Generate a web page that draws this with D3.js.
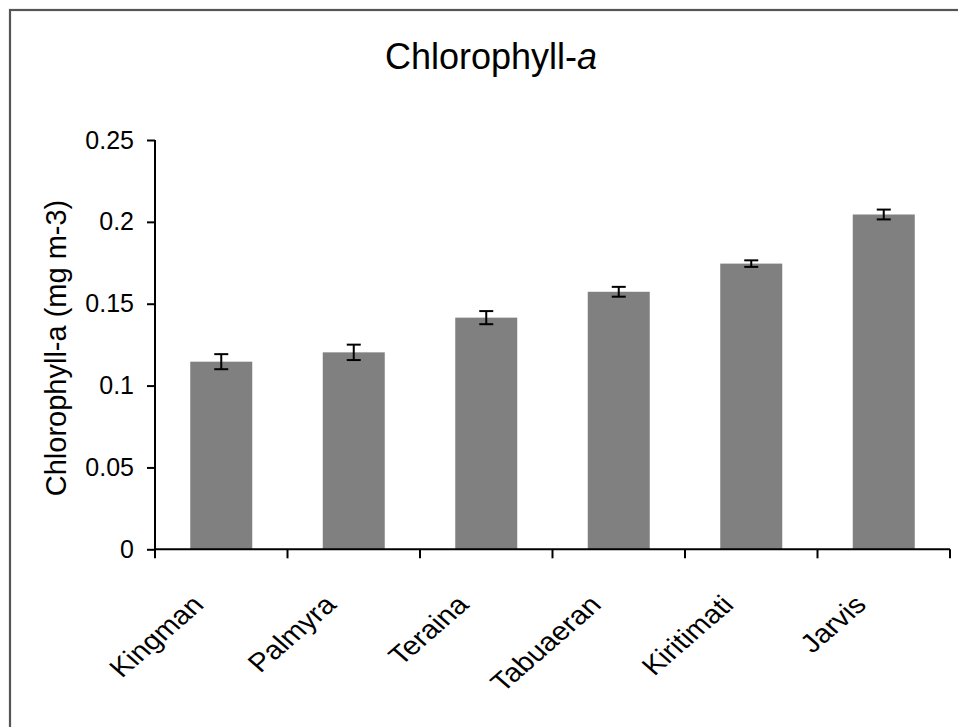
<!DOCTYPE html>
<html>
<head>
<meta charset="utf-8">
<script src="https://cdn.jsdelivr.net/npm/d3@7/dist/d3.min.js"></script>
<style>
  html, body { margin: 0; padding: 0; background: #fff; }
  svg { display: block; font-family: "Liberation Sans", Arial, Helvetica, sans-serif; }
</style>
</head>
<body>
<svg id="chart" width="958" height="727"></svg>
<script>
const categories = ["Kingman", "Palmyra", "Teraina", "Tabuaeran", "Kiritimati", "Jarvis"];
const values = [0.1146, 0.1203, 0.1415, 0.1573, 0.1745, 0.2045];
const errors = [0.0046, 0.0047, 0.0040, 0.0030, 0.0020, 0.0030];
const yTicks = [0, 0.05, 0.1, 0.15, 0.2, 0.25];
const yTickLabels = ["0", "0.05", "0.1", "0.15", "0.2", "0.25"];

const svg = d3.select("#chart");
const plot = { left: 155, right: 950, top: 140, bottom: 549.3 };

// outer frame
svg.append("rect")
  .attr("x", 10).attr("y", 10)
  .attr("width", 980).attr("height", 760)
  .attr("fill", "none").attr("stroke", "#555").attr("stroke-width", 2.2);

const x = d3.scaleBand()
  .domain(categories)
  .range([plot.left, plot.right])
  .paddingInner(0.532)
  .paddingOuter(0.266);

const y = d3.scaleLinear().domain([0, 0.25]).range([plot.bottom, plot.top]);

// bars
svg.append("g").selectAll("rect")
  .data(categories)
  .join("rect")
  .attr("x", d => x(d))
  .attr("width", x.bandwidth())
  .attr("y", (d, i) => y(values[i]))
  .attr("height", (d, i) => y(0) - y(values[i]))
  .attr("fill", "#808080");

// error bars
const eb = svg.append("g").attr("stroke", "#000").attr("stroke-width", 2);
const capW = 14;
categories.forEach((c, i) => {
  const cx = x(c) + x.bandwidth() / 2;
  const yHi = y(values[i] + errors[i]);
  const yLo = y(values[i] - errors[i]);
  eb.append("line").attr("x1", cx).attr("x2", cx).attr("y1", yHi).attr("y2", yLo);
  eb.append("line").attr("x1", cx - capW / 2).attr("x2", cx + capW / 2).attr("y1", yHi).attr("y2", yHi);
  eb.append("line").attr("x1", cx - capW / 2).attr("x2", cx + capW / 2).attr("y1", yLo).attr("y2", yLo);
});

// y axis
const yAxis = d3.axisLeft(y)
  .tickValues(yTicks)
  .tickFormat((d, i) => yTickLabels[i])
  .tickSizeOuter(0)
  .tickSizeInner(8)
  .tickPadding(13);
const gy = svg.append("g").attr("transform", `translate(${plot.left},0)`).call(yAxis);
gy.select(".domain").attr("stroke", "#000").attr("stroke-width", 2)
  .attr("d", `M0,${plot.top}V${plot.bottom + 4}`);
gy.selectAll(".tick line").attr("stroke", "#000").attr("stroke-width", 2);
gy.selectAll(".tick text").attr("font-size", 25).attr("fill", "#000")
  .attr("font-family", "'Liberation Sans', Arial, sans-serif");

// x axis
const xBoundaries = [plot.left].concat(categories.map(c => x(c) + x.bandwidth() / 2 + x.step() / 2));
const gx = svg.append("g").attr("transform", `translate(0,${plot.bottom})`);
gx.append("line").attr("x1", plot.left).attr("x2", plot.right).attr("y1", 0).attr("y2", 0)
  .attr("stroke", "#000").attr("stroke-width", 2);
gx.selectAll("line.tk").data(xBoundaries).join("line").attr("class", "tk")
  .attr("x1", d => d).attr("x2", d => d).attr("y1", 0).attr("y2", 9)
  .attr("stroke", "#000").attr("stroke-width", 2);
gx.selectAll("text").data(categories).join("text")
  .attr("transform", d => `translate(${x(d) + x.bandwidth() / 2 - 16},${57}) scale(1.15,1) rotate(-45)`)
  .attr("text-anchor", "end")
  .attr("font-size", 26)
  .attr("fill", "#000")
  .text(d => d);

// y label
svg.append("text")
  .attr("transform", `translate(66,348) rotate(-90)`)
  .attr("text-anchor", "middle")
  .attr("font-size", 29)
  .attr("fill", "#000")
  .text("Chlorophyll-a (mg m-3)");

// title
const title = svg.append("text")
  .attr("x", 491).attr("y", 69)
  .attr("text-anchor", "middle")
  .attr("font-size", 36)
  .attr("fill", "#000");
title.append("tspan").text("Chlorophyll-");
title.append("tspan").attr("font-style", "italic").text("a");
</script>
</body>
</html>
